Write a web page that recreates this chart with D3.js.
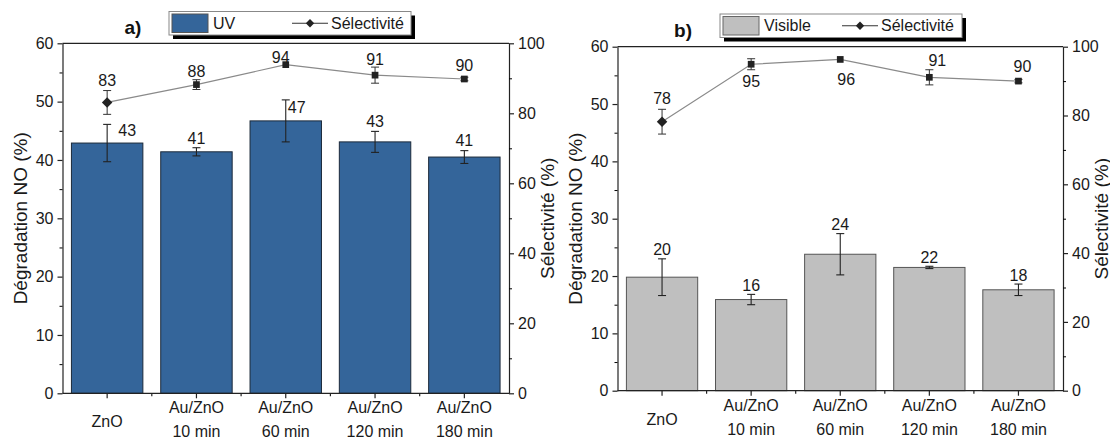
<!DOCTYPE html>
<html><head><meta charset="utf-8">
<script src="https://cdn.jsdelivr.net/npm/d3@7"></script>
<style>body{margin:0;background:#fff}svg{display:block;font-family:"Liberation Sans",Arial,sans-serif}</style>
</head><body><svg id="c" width="1110" height="439"></svg>
<script>
const categoriesLine1 = ["ZnO","Au/ZnO","Au/ZnO","Au/ZnO","Au/ZnO"];
const categoriesLine2 = ["","10 min","60 min","120 min","180 min"];
const leftTicks = [0,10,20,30,40,50,60];
const leftMinorTicks = [5,15,25,35,45,55];
const rightTicks = [0,20,40,60,80,100];
const rightMinorTicks = [10,30,50,70,90];

const uvDegradation = [42.9,41.4,46.7,43.1,40.5];
const uvDegradationErr = [3.2,0.7,3.6,1.8,1.1];
const uvDegradationLabels = ["43","41","47","43","41"];
const uvSelectivity = [83.1,88.2,93.9,90.9,89.8];
const uvSelectivityErr = [3.4,1.4,0,2.3,0.5];
const uvSelectivityLabels = ["83","88","94","91","90"];

const visDegradation = [19.8,15.9,23.8,21.5,17.6];
const visDegradationErr = [3.2,0.9,3.6,0.2,1.0];
const visDegradationLabels = ["20","16","24","22","18"];
const visSelectivity = [78.2,94.9,96.3,91.1,90.0];
const visSelectivityErr = [3.6,1.6,0,2.2,0.5];
const visSelectivityLabels = ["78","95","96","91","90"];

const svg = d3.select("#c");

function drawPanel(p) {
  const g = svg.append("g");
  const x = d3.scaleBand().domain(d3.range(categoriesLine1.length)).range([p.x0, p.x1]).paddingInner(0.2).paddingOuter(0.1);
  const yL = d3.scaleLinear().domain([0, 60]).range([p.y1, p.y0]);
  const yR = d3.scaleLinear().domain([0, 100]).range([p.y1, p.y0]);
  const step = x.step();
  const cx = i => x(i) + x.bandwidth() / 2;

  // bars
  g.selectAll("rect.bar").data(p.deg).join("rect")
    .attr("x", (d, i) => x(i)).attr("width", x.bandwidth())
    .attr("y", d => yL(d)).attr("height", d => yL(0) - yL(d))
    .attr("fill", p.fill).attr("stroke", p.stroke).attr("stroke-width", 1);

  // bar error bars
  const eb = g.append("g").attr("stroke", "#222").attr("stroke-width", 1.1);
  p.deg.forEach((d, i) => {
    const e = p.degErr[i];
    if (e <= 0) return;
    eb.append("line").attr("x1", cx(i)).attr("x2", cx(i)).attr("y1", yL(d + e)).attr("y2", yL(d - e));
    [d + e, d - e].forEach(v => eb.append("line").attr("x1", cx(i) - 4).attr("x2", cx(i) + 4).attr("y1", yL(v)).attr("y2", yL(v)));
  });

  // bar labels
  p.deg.forEach((d, i) => {
    const o = p.barLabelOff[i];
    g.append("text").attr("x", cx(i) + o[0]).attr("y", yL(d + p.degErr[i]) + o[1])
      .attr("text-anchor", "middle").attr("dominant-baseline", "central")
      .attr("font-size", 16).attr("fill", "#1a1a1a").text(p.degLabels[i]);
  });

  // selectivity line
  const line = d3.line().x((d, i) => cx(i)).y(d => yR(d));
  g.append("path").datum(p.sel).attr("d", line).attr("fill", "none").attr("stroke", "#8a8a8a").attr("stroke-width", 1.2);
  const es = g.append("g").attr("stroke", "#333").attr("stroke-width", 1);
  p.sel.forEach((d, i) => {
    const e = p.selErr[i];
    if (e <= 0) return;
    es.append("line").attr("x1", cx(i)).attr("x2", cx(i)).attr("y1", yR(d + e)).attr("y2", yR(d - e));
    [d + e, d - e].forEach(v => es.append("line").attr("x1", cx(i) - 4).attr("x2", cx(i) + 4).attr("y1", yR(v)).attr("y2", yR(v)));
  });
  p.sel.forEach((d, i) => {
    const sym = i === 0 ? d3.symbolDiamond2 : d3.symbolSquare;
    const size = i === 0 ? 70 : 45;
    g.append("path").attr("d", d3.symbol().type(sym).size(size)())
      .attr("transform", `translate(${cx(i)},${yR(d)})`).attr("fill", "#222");
  });
  p.sel.forEach((d, i) => {
    const o = p.selLabelOff[i];
    const base = o[2] === "below" ? yR(d - p.selErr[i]) : yR(d + p.selErr[i]);
    g.append("text").attr("x", cx(i) + o[0]).attr("y", base + o[1])
      .attr("text-anchor", "middle").attr("dominant-baseline", "central")
      .attr("font-size", 16).attr("fill", "#1a1a1a").text(p.selLabels[i]);
  });

  // axes
  const axL = g.append("g").attr("transform", `translate(${p.x0},0)`)
    .call(d3.axisLeft(yL).tickValues(leftTicks).tickSize(5).tickSizeOuter(0).tickPadding(4));
  g.append("g").attr("transform", `translate(${p.x0},0)`)
    .call(d3.axisLeft(yL).tickValues(leftMinorTicks).tickSize(3).tickFormat("").tickSizeOuter(0))
    .select(".domain").remove();
  const axR = g.append("g").attr("transform", `translate(${p.x1},0)`)
    .call(d3.axisRight(yR).tickValues(rightTicks).tickSize(5).tickSizeOuter(0).tickPadding(4));
  g.append("g").attr("transform", `translate(${p.x1},0)`)
    .call(d3.axisRight(yR).tickValues(rightMinorTicks).tickSize(3).tickFormat("").tickSizeOuter(0))
    .select(".domain").remove();
  [axL, axR].forEach(a => {
    a.selectAll("text").attr("font-size", 16).attr("fill", "#1a1a1a").attr("font-family", "Liberation Sans, Arial, sans-serif");
    a.selectAll("line,path").attr("stroke", "#222").attr("stroke-width", 1.2);
  });

  // bottom axis
  const axB = g.append("g").attr("transform", `translate(0,${p.y1})`)
    .call(d3.axisBottom(x).tickSize(5).tickSizeOuter(0).tickFormat(""));
  axB.selectAll("line,path").attr("stroke", "#222").attr("stroke-width", 1.2);
  axB.select(".domain").attr("d", `M${p.x0},0H${p.x1}`);
  d3.range(1, categoriesLine1.length).forEach(i => {
    axB.append("line").attr("x1", x(i) - step * 0.1).attr("x2", x(i) - step * 0.1).attr("y1", 0).attr("y2", 3)
      .attr("stroke", "#222").attr("stroke-width", 1.2);
  });
  categoriesLine1.forEach((c, i) => {
    const t = g.append("text").attr("text-anchor", "middle").attr("font-size", 16).attr("fill", "#1a1a1a");
    if (categoriesLine2[i]) {
      t.append("tspan").attr("x", cx(i)).attr("y", p.y1 + 20).text(c);
      t.append("tspan").attr("x", cx(i)).attr("y", p.y1 + 44).text(categoriesLine2[i]);
    } else {
      t.attr("x", cx(i)).attr("y", p.y1 + 34).text(c);
    }
  });
  // top border
  g.append("line").attr("x1", p.x0).attr("x2", p.x1).attr("y1", p.y0).attr("y2", p.y0).attr("stroke", "#222").attr("stroke-width", 1.2);

  // axis titles
  const midY = (p.y0 + p.y1) / 2;
  g.append("text").attr("transform", `translate(${p.x0 - 42},${midY}) rotate(-90)`)
    .attr("text-anchor", "middle").attr("dominant-baseline", "central").attr("font-size", 19).attr("fill", "#1a1a1a")
    .text("Dégradation NO (%)");
  g.append("text").attr("transform", `translate(${p.x1 + 38},${midY}) rotate(-90)`)
    .attr("text-anchor", "middle").attr("dominant-baseline", "central").attr("font-size", 19).attr("fill", "#1a1a1a")
    .text("Sélectivité (%)");

  // panel letter
  g.append("text").attr("x", p.letterX).attr("y", p.letterY).attr("text-anchor", "middle").attr("dominant-baseline", "central")
    .attr("font-size", 19).attr("font-weight", "bold").attr("fill", "#111").text(p.letter);

  // legend
  const L = p.legend;
  g.append("rect").attr("x", L.x + 4).attr("y", L.y + 4).attr("width", L.w).attr("height", L.h).attr("fill", "#000");
  g.append("rect").attr("x", L.x).attr("y", L.y).attr("width", L.w).attr("height", L.h).attr("fill", "#fff").attr("stroke", "#888").attr("stroke-width", 1);
  g.append("rect").attr("x", L.x + 3).attr("y", L.y + 2.5).attr("width", 36).attr("height", L.h - 5)
    .attr("fill", p.fill).attr("stroke", p.legendStroke).attr("stroke-width", 1);
  g.append("text").attr("x", L.x + 44).attr("y", L.y + L.h / 2).attr("dominant-baseline", "central")
    .attr("font-size", 16).attr("fill", "#1a1a1a").text(p.legendText);
  g.append("line").attr("x1", L.lineX).attr("x2", L.lineX + 36).attr("y1", L.y + L.h / 2).attr("y2", L.y + L.h / 2)
    .attr("stroke", "#333").attr("stroke-width", 1);
  g.append("path").attr("d", d3.symbol().type(d3.symbolDiamond2).size(45)())
    .attr("transform", `translate(${L.lineX + 18},${L.y + L.h / 2})`).attr("fill", "#222");
  g.append("text").attr("x", L.lineX + 39).attr("y", L.y + L.h / 2).attr("dominant-baseline", "central")
    .attr("font-size", 16).attr("fill", "#1a1a1a").text("Sélectivité");
}

drawPanel({
  x0: 62.5, x1: 509, y0: 43.3, y1: 393.3,
  fill: "#34659a", stroke: "#1c2a3a", legendStroke: "#555",
  deg: uvDegradation, degErr: uvDegradationErr, degLabels: uvDegradationLabels,
  sel: uvSelectivity, selErr: uvSelectivityErr, selLabels: uvSelectivityLabels,
  barLabelOff: [[20, 6], [0, -9], [11, 8], [0, -10], [0, -10]],
  selLabelOff: [[0, -10], [0, -8], [-5, -7], [0, -8], [0, -12]],
  letter: "a)", letterX: 133, letterY: 27,
  legend: { x: 169, y: 11.5, w: 242, h: 23.5, lineX: 292 },
  legendText: "UV"
});
drawPanel({
  x0: 617.5, x1: 1063, y0: 46.7, y1: 390.7,
  fill: "#bfbfbf", stroke: "#555", legendStroke: "#666",
  deg: visDegradation, degErr: visDegradationErr, degLabels: visDegradationLabels,
  sel: visSelectivity, selErr: visSelectivityErr, selLabels: visSelectivityLabels,
  barLabelOff: [[0, -9], [0, -9], [0, -9], [0, -9], [0, -9]],
  selLabelOff: [[0, -11], [0, 12, "below"], [6, 20, "below"], [8, -9], [4, -13]],
  letter: "b)", letterX: 683, letterY: 30,
  legend: { x: 720, y: 14, w: 242, h: 23.5, lineX: 842 },
  legendText: "Visible"
});
</script></body></html>
